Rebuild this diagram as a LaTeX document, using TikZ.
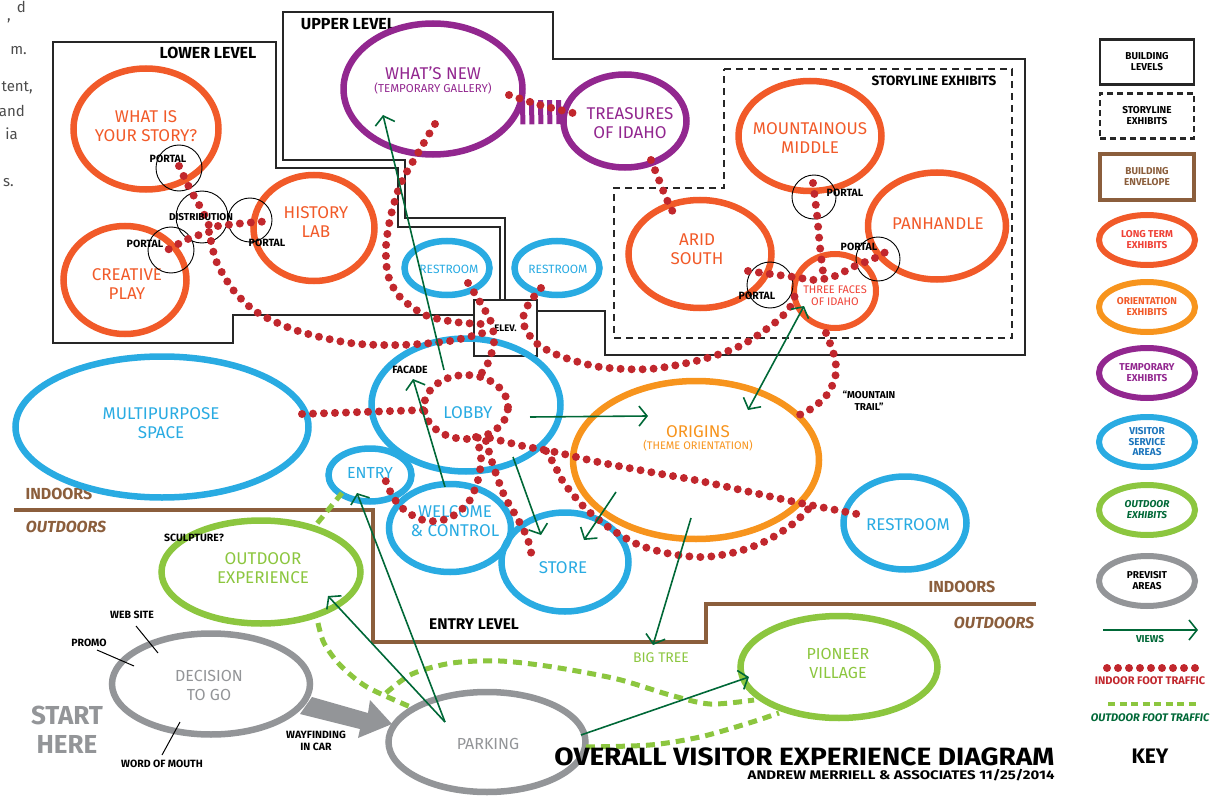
\documentclass[tikz,border=0pt]{standalone}
\usepackage{fontspec}
\setmainfont{Fira Sans}
\usetikzlibrary{shapes.geometric,arrows.meta,positioning}

\definecolor{ltorange}{HTML}{F15A29}
\definecolor{ororange}{HTML}{F7941D}
\definecolor{tppurple}{HTML}{92278F}
\definecolor{vsblue}{HTML}{29ABE2}
\definecolor{odgreen}{HTML}{8CC63F}
\definecolor{pvgray}{HTML}{939598}
\definecolor{trafficred}{HTML}{C1272D}
\definecolor{viewgreen}{HTML}{006837}
\definecolor{envbrown}{HTML}{8B5E3C}
\definecolor{keyred}{HTML}{EF4136}
\definecolor{keyblue}{HTML}{1C75BC}

\tikzset{
  area/.style={ellipse, line width=6.5pt, inner sep=0pt},
  ltarea/.style={area, draw=ltorange},
  orarea/.style={area, draw=ororange},
  tparea/.style={area, draw=tppurple},
  vsarea/.style={area, draw=vsblue},
  odarea/.style={area, draw=odgreen},
  pvarea/.style={area, draw=pvgray},
  bigtext/.style={align=center, font=\fontsize{17}{19}\selectfont},
  smalltag/.style={align=center, font=\bfseries\fontsize{10.5}{12}\selectfont},
  levellabel/.style={font=\bfseries\fontsize{16}{18}\selectfont},
  envtext/.style={text=envbrown, font=\bfseries\fontsize{16}{18}\selectfont},
  portal/.style={circle, draw, line width=0.9pt, minimum size=46pt, inner sep=0pt},
  floorline/.style={draw=black!85, line width=2.4pt},
  storyline/.style={draw=black!85, line width=2.2pt, dash pattern=on 7pt off 5pt},
  envelope/.style={draw=envbrown, line width=4pt},
  indoor/.style={draw=trafficred, line width=8pt, line cap=round, dash pattern=on 0pt off 11pt},
  outdoorfoot/.style={draw=odgreen, line width=5pt, dash pattern=on 9pt off 6pt},
  views/.style={draw=viewgreen, line width=1.6pt, -{Straight Barb[length=8pt,width=20pt,line width=1.6pt]}},
  viewboth/.style={draw=viewgreen, line width=1.6pt, {Straight Barb[length=8pt,width=20pt,line width=1.6pt]}-{Straight Barb[length=8pt,width=20pt,line width=1.6pt]}},
  keybox/.style={minimum width=94pt, minimum height=45pt, inner sep=0pt, align=center, font=\bfseries\fontsize{10}{11}\selectfont},
  keyarea/.style={minimum width=96pt, minimum height=50pt, line width=6pt, align=center, font=\bfseries\fontsize{10}{11}\selectfont}
}

\begin{document}
\begin{tikzpicture}[x=1pt, y=-1pt]
    \useasboundingbox (0,0) rectangle (1224,797);

    % Text of the page that runs off the left edge
    \begin{scope}[text=black!70, font=\fontsize{15}{16}\selectfont]
    \node[anchor=north east, inner sep=0pt] at (26,1) {d};
    \node[anchor=east, inner sep=0pt] at (11,21) {,};
    \node[anchor=east, inner sep=0pt] at (27,51) {m.};
    \node[anchor=east, inner sep=0pt] at (33,88) {tent,};
    \node[anchor=east, inner sep=0pt] at (25,111) {and};
    \node[anchor=east, inner sep=0pt] at (18,134) {ia};
    \node[anchor=east, inner sep=0pt] at (14,183) {s.};
    \end{scope}

    % Draw the building levels
    \draw[floorline] (474,315) -- (233,315) -- (233,343) -- (53,343) -- (53,42) -- (276,42) -- (276,168) -- (398,168) -- (398,227) -- (500,227) -- (500,300);
    \draw[floorline] (505,300) -- (505,218) -- (405,218) -- (405,160) -- (283,160) -- (283,12) -- (553,12) -- (553,59) -- (1025,59) -- (1025,355) -- (605,355) -- (605,311) -- (537,311);
    \node[draw=black!85, line width=2.4pt, minimum width=63pt, minimum height=56pt, inner sep=0pt, font=\bfseries\fontsize{9.5}{10}\selectfont] (elev) at (505.5,328) {ELEV.};
    \draw[storyline] (724,69) -- (1012,69) -- (1012,338) -- (614,338) -- (614,188) -- (724,188) -- cycle;
    \node[levellabel] (lowerlbl) at (208,53) {LOWER LEVEL};
    \node[levellabel] (upperlbl) at (348,24) {UPPER LEVEL};
    \node[font=\bfseries\fontsize{13.5}{15}\selectfont] (storylbl) at (934,81) {STORYLINE EXHIBITS};

    % Draw the building envelope
    \draw[envelope] (14,510) -- (373,510) -- (373,642) -- (706,642) -- (706,604) -- (1036,604);
    \node[envtext] (indoorsA) at (59,494) {INDOORS};
    \node[envtext, font=\bfseries\itshape\fontsize{16}{18}\selectfont] (outdoorsA) at (66,527) {OUTDOORS};
    \node[envtext] (indoorsB) at (962,587) {INDOORS};
    \node[envtext, font=\bfseries\itshape\fontsize{16}{18}\selectfont] (outdoorsB) at (994,623) {OUTDOORS};
    \node[levellabel, font=\bfseries\fontsize{15.5}{17}\selectfont] (entrylvl) at (474,624) {ENTRY LEVEL};

    % Lower level exhibits
    \node[ltarea, minimum width=145pt, minimum height=121pt] (story) at (146,129) {};
    \node[ltarea, minimum width=123pt, minimum height=108pt] (creative) at (125,280) {};
    \node[ltarea, minimum width=121pt, minimum height=106pt] (history) at (314,228) {};
    \node[bigtext, text=ltorange] at (146,126) {WHAT IS\\YOUR STORY?};
    \node[bigtext, text=ltorange] at (127,284) {CREATIVE\\PLAY};
    \node[bigtext, text=ltorange] at (316,222) {HISTORY\\LAB};

    % Upper level exhibits
    \node[tparea, minimum width=179pt, minimum height=131pt] (whatsnew) at (433,89) {};
    \node[tparea, minimum width=123pt, minimum height=93pt] (treasures) at (625,121) {};
    \draw[tppurple, line width=24pt, dash pattern=on 5pt off 4pt] (whatsnew.-15) -- (treasures.172);
    \node[bigtext, text=tppurple] at (433,73) {WHAT'S NEW};
    \node[text=tppurple, font=\fontsize{11.5}{13}\selectfont] at (433,88) {(TEMPORARY GALLERY)};
    \node[bigtext, text=tppurple] at (630,123) {TREASURES\\OF IDAHO};

    % Storyline exhibits
    \node[ltarea, minimum width=143pt, minimum height=110pt] (mountain) at (810,136) {};
    \node[ltarea, minimum width=138pt, minimum height=107pt] (panhandle) at (937,226) {};
    \node[ltarea, minimum width=143pt, minimum height=108pt] (arid) at (700,254) {};
    \node[ltarea, minimum width=82pt, minimum height=74pt, line width=6pt] (threefaces) at (835,291) {};
    \node[bigtext, text=ltorange] at (810,138) {MOUNTAINOUS\\MIDDLE};
    \node[bigtext, text=ltorange] at (938,224) {PANHANDLE};
    \node[bigtext, text=ltorange] at (697,249) {ARID\\SOUTH};
    \node[align=center, text=keyred, font=\fontsize{11}{12}\selectfont] at (835,296) {THREE FACES\\OF IDAHO};

    % Visitor service areas
    \node[vsarea, minimum width=293pt, minimum height=141pt] (multi) at (162,427) {};
    \node[vsarea, minimum width=189pt, minimum height=133pt] (lobby) at (466,405) {};
    \node[vsarea, minimum width=83pt, minimum height=53pt] (entry) at (370,475) {};
    \node[vsarea, minimum width=122pt, minimum height=88pt] (welcome) at (450,528) {};
    \node[vsarea, minimum width=127pt, minimum height=99pt] (store) at (565,562) {};
    \node[vsarea, minimum width=85pt, minimum height=54pt] (restroomA) at (447,268) {};
    \node[vsarea, minimum width=85pt, minimum height=54pt] (restroomB) at (557,268) {};
    \node[vsarea, minimum width=123pt, minimum height=93pt] (restroomC) at (905,523) {};
    \node[bigtext, text=vsblue] at (161,423) {MULTIPURPOSE\\SPACE};
    \node[bigtext, text=vsblue] at (468,413) {LOBBY};
    \node[bigtext, text=vsblue, font=\fontsize{16}{18}\selectfont] at (370,473) {ENTRY};
    \node[bigtext, text=vsblue] at (455,521) {WELCOME\\\& CONTROL};
    \node[bigtext, text=vsblue] at (563,568) {STORE};
    \node[text=vsblue, font=\fontsize{12}{13}\selectfont] at (449,269) {RESTROOM};
    \node[text=vsblue, font=\fontsize{12}{13}\selectfont] at (558,269) {RESTROOM};
    \node[bigtext, text=vsblue] at (908,525) {RESTROOM};

    % Orientation
    \node[orarea, minimum width=246pt, minimum height=158pt] (origins) at (696,460) {};
    \node[bigtext, text=ororange] at (698,432) {ORIGINS};
    \node[text=ororange, font=\fontsize{11}{12}\selectfont] at (698,446) {(THEME ORIENTATION)};

    % Outdoor exhibits and previsit areas
    \node[odarea, minimum width=199pt, minimum height=103pt] (outdoorexp) at (261,572) {};
    \node[odarea, minimum width=197pt, minimum height=102pt] (pioneer) at (839,667) {};
    \node[pvarea, minimum width=198pt, minimum height=101pt] (decision) at (211,684) {};
    \node[pvarea, minimum width=197pt, minimum height=100pt] (parking) at (487,742) {};
    \node[bigtext, text=odgreen] at (263,568) {OUTDOOR\\EXPERIENCE};
    \node[bigtext, text=odgreen, font=\fontsize{16}{19}\selectfont] at (838,663) {PIONEER\\VILLAGE};
    \node[bigtext, text=pvgray, font=\fontsize{16}{19}\selectfont] at (209,685) {DECISION\\TO GO};
    \node[bigtext, text=pvgray, font=\fontsize{16}{18}\selectfont] at (488,744) {PARKING};
    \node[text=odgreen, font=\fontsize{14}{16}\selectfont] (bigtree) at (661,658) {BIG TREE};

    % Wayfinding arrow from decision to parking
    \fill[pvgray] (312,697) -- (368,713) -- (370,700) -- (392,724) -- (358,738) -- (360,729) -- (300,714) -- cycle;

    % Portals and distribution
    \node[portal] (portalA) at (179,168) {};
    \node[portal, minimum size=52pt] (distrib) at (202,217) {};
    \node[portal] (portalB) at (171,250) {};
    \node[portal, minimum size=44pt] (portalC) at (250,220) {};
    \node[portal, minimum size=44pt] (portalD) at (814,197) {};
    \node[portal, minimum size=44pt] (portalE) at (878,259) {};
    \node[portal] (portalF) at (770,285) {};

    % Indoor foot traffic
    \draw[indoor] plot[smooth] coordinates {(179,166) (190,189) (203,212) (210,228)};
    \draw[indoor] plot[smooth] coordinates {(218,226) (245,223) (272,221)};
    \draw[indoor] plot[smooth] coordinates {(209,232) (188,239) (162,253)};
    \draw[indoor] plot[smooth] coordinates {(211,241) (217,263) (234,291) (258,313) (298,331) (350,343) (400,345) (450,341) (483,333)};
    \draw[indoor] plot[smooth] coordinates {(435,124) (418,153) (401,183) (391,215) (386,246) (388,275) (400,297) (425,315) (455,322) (482,324)};
    \draw[indoor] plot[smooth] coordinates {(468,283) (480,302) (491,322) (494,342) (488,363) (478,378)};
    \draw[indoor] plot[smooth] coordinates {(541,288) (528,305) (523,322) (535,342) (560,356) (600,367) (650,369) (700,360) (740,346) (772,325) (789,309) (795,295)};
    \draw[indoor] plot[smooth] coordinates {(509,95) (540,105) (573,113)};
    \draw[indoor] plot[smooth] coordinates {(651,160) (659,180) (667,200) (677,220)};
    \draw[indoor] plot[smooth] coordinates {(748,271) (770,274) (794,277) (815,280) (835,276) (855,266) (875,258) (894,247)};
    \draw[indoor] plot[smooth] coordinates {(813,183) (817,215) (820,247) (824,280)};
    \draw[indoor] plot[smooth] coordinates {(826,333) (834,355) (836,373) (829,392) (814,407) (795,417)};
    \draw[indoor] (466,407) ellipse (42pt and 32pt);
    \draw[indoor] (302,414) -- (424,410);
    \draw[indoor] plot[smooth] coordinates {(476,437) (481,457) (478,480) (468,503) (449,518) (427,521) (407,512) (393,497) (383,474)};
    \draw[indoor] plot[smooth] coordinates {(486,441) (493,465) (504,495) (516,516) (527,537) (532,557)};
    \draw[indoor] plot[smooth] coordinates {(490,438) (523,446) (555,452) (598,462) (650,472) (700,481) (750,492) (800,503) (857,514)};
    \draw[indoor] plot[smooth] coordinates {(546,451) (554,464) (564,483) (585,508) (611,529) (639,545) (671,554) (704,557) (736,552) (766,541) (794,523) (812,505)};

    % Outdoor foot traffic
    \draw[outdoorfoot] (342,493) -- (315,526);
    \draw[outdoorfoot] plot[smooth] coordinates {(318,623) (324,643) (340,665) (367,687) (413,708)};
    \draw[outdoorfoot] plot[smooth] coordinates {(386,693) (412,674) (452,663) (500,661) (553,667) (617,679) (670,695) (710,704) (754,700)};
    \draw[outdoorfoot] plot[smooth] coordinates {(586,747) (650,745) (700,737) (749,723) (779,713)};

    % Views
    \coordinate (lobbyview) at (444,370);
    \coordinate (whatsnewview) at (383,115);
    \coordinate (welcomeview) at (445,487);
    \coordinate (facadeview) at (413,379);
    \coordinate (parkingview) at (445,722);
    \draw[views] (lobbyview) -- (whatsnewview);
    \draw[views] (welcomeview) -- (facadeview);
    \draw[views] (530,417) -- (648,416);
    \draw[views] (513,457) -- (541,535);
    \draw[views] (616,492) -- (584,540);
    \draw[views] (691,518) -- (653,645);
    \draw[viewboth] (748,410) -- (804,306);
    \draw[views] (parkingview) -- (357,493);
    \draw[views] (parkingview) -- (328,596);
    \draw[views] (581,735) -- (749,677);

    % Small labels
    \node[smalltag] at (168,159) {PORTAL};
    \node[smalltag] at (145,244) {PORTAL};
    \node[smalltag] at (267,243) {PORTAL};
    \node[smalltag, font=\bfseries\fontsize{10}{11}\selectfont] at (201,217) {DISTRIBUTION};
    \node[smalltag] at (845,193) {PORTAL};
    \node[smalltag] at (859,247) {PORTAL};
    \node[smalltag] at (757,296) {PORTAL};
    \node[smalltag] at (410,370) {FACADE};
    \node[smalltag, font=\bfseries\fontsize{10}{12}\selectfont] at (869,401) {“MOUNTAIN\\TRAIL”};
    \node[smalltag] at (194,538) {SCULPTURE?};
    \node[smalltag] (website) at (132,615) {WEB SITE};
    \node[smalltag] (promo) at (89,643) {PROMO};
    \node[smalltag] (mouth) at (162,764) {WORD OF MOUTH};
    \node[smalltag] at (316,741) {WAYFINDING\\IN CAR};
    \draw[line width=1pt] (136,626) -- (158,653);
    \draw[line width=1pt] (97,650) -- (134,666);
    \draw[line width=1pt] (180,722) -- (162,755);
    \node[align=center, text=pvgray, font=\bfseries\fontsize{26}{29}\selectfont] at (67,730) {START\\HERE};

    % Title
    \node[anchor=east, font=\bfseries\fontsize{25}{27}\selectfont] (title) at (1058,757) {\scalebox{1.12}[1]{OVERALL VISITOR EXPERIENCE DIAGRAM}};
    \node[anchor=east, font=\bfseries\fontsize{12.5}{13}\selectfont] (subtitle) at (1058,775) {\scalebox{1.2}[1]{ANDREW MERRIELL \& ASSOCIATES 11/25/2014}};

    % Key
    \node[keybox, draw=black!85, line width=2.2pt] (keylevels) at (1147,62) {BUILDING\\LEVELS};
    \node[keybox, draw=black!85, line width=2.2pt, dash pattern=on 6pt off 4pt] (keystory) at (1147,116) {STORYLINE\\EXHIBITS};
    \node[keybox, draw=envbrown, line width=4pt, text=envbrown] (keyenv) at (1147,177) {BUILDING\\ENVELOPE};
    \node[keyarea, ellipse, draw=ltorange, text=keyred] (keylong) at (1147,240) {LONG TERM\\EXHIBITS};
    \node[keyarea, ellipse, draw=ororange, text=ltorange] (keyorient) at (1147,307) {ORIENTATION\\EXHIBITS};
    \node[keyarea, ellipse, draw=tppurple, text=tppurple] (keytemp) at (1147,373) {TEMPORARY\\EXHIBITS};
    \node[keyarea, ellipse, draw=vsblue, text=keyblue, font=\bfseries\fontsize{10}{10.5}\selectfont] (keyservice) at (1147,442) {VISITOR\\SERVICE\\AREAS};
    \node[keyarea, ellipse, draw=odgreen, text=viewgreen, font=\bfseries\itshape\fontsize{10}{11}\selectfont] (keyoutdoor) at (1147,510) {OUTDOOR\\EXHIBITS};
    \node[keyarea, ellipse, draw=pvgray] (keyprevisit) at (1147,581) {PREVISIT\\AREAS};
    \coordinate (keyviewA) at (1103,630);
    \coordinate (keyviewB) at (1198,630);
    \draw[views] (keyviewA) -- (keyviewB);
    \node[smalltag, text=viewgreen, font=\bfseries\fontsize{10}{11}\selectfont] at (1150,639) {VIEWS};
    \draw[indoor] (1107,668) -- (1197,668);
    \node[text=trafficred, font=\bfseries\fontsize{11}{12}\selectfont] at (1150,681) {INDOOR FOOT TRAFFIC};
    \draw[odgreen, line width=4.5pt, dash pattern=on 7pt off 4.5pt] (1108,704) -- (1198,704);
    \node[text=viewgreen, font=\bfseries\itshape\fontsize{11}{12}\selectfont] at (1150,718) {OUTDOOR FOOT TRAFFIC};
    \node[font=\bfseries\fontsize{21}{23}\selectfont] (keytitle) at (1150,756) {KEY};

\end{tikzpicture}
\end{document}
